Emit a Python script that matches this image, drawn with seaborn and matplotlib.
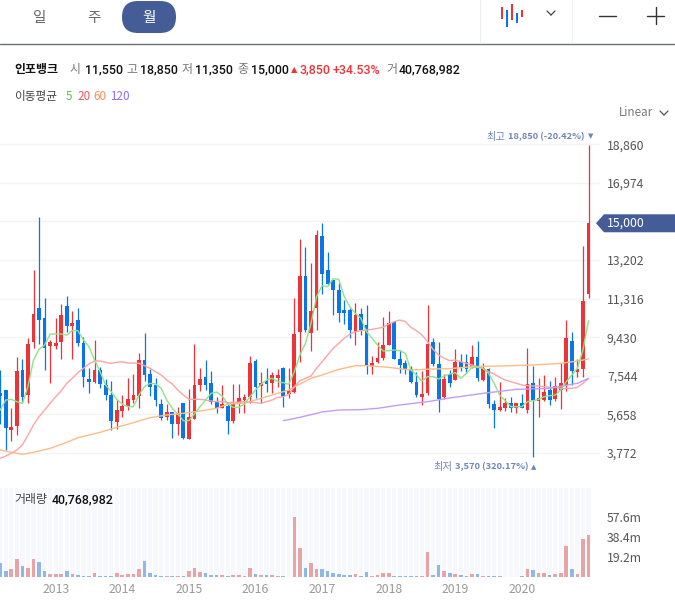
import numpy as np
import pandas as pd
import matplotlib
matplotlib.use("Agg")
import matplotlib.pyplot as plt
from matplotlib.patches import FancyBboxPatch, Polygon, Rectangle
from matplotlib.lines import Line2D
import seaborn as sns

high = [7830,6853,5957,8449,8351,9378,12717,15323,11365,9296,10355,11055,11446,10713,10860,9443,7928,9296,7960,7407,7293,6364,6608,7439,7634,8645,9638,7863,7439,6396,6168,5777,6005,6217,6885,9085,7912,8319,7781,6527,7081,
6201,7146,7130,6641,8514,8367,7748,7912,7748,7879,7977,7912,11365,14216,13825,13043,14672,15014,13580,12228,12066,11251,10844,11104,10844,11007,8514,9199,10420,10713,10176,8807,8319,8025,7732,7781,11007,9394,9199,7634,7830,
8840,8596,8596,9052,9231,8156,7911,6364,7227,6445,6494,6234,6657,8889,8042,7423,7586,7309,7471,8156,10273,9687,8351,13890,18850]
body_top = [6722,6853,5044,7781,7830,9101,10567,10860,10371,9182,9133,10518,10958,10127,10274,9150,7390,7830,7830,7097,6608,5875,6071,6413,6608,8319,8319,7634,7097,6168,5777,5777,5680,6217,5533,7097,7390,7488,7195,6266,6168,
6071,6168,6462,6511,8172,8270,7195,7293,7586,7586,7928,6804,9589,12424,12424,10713,14428,14379,12717,12228,11740,10762,10762,10518,10567,10029,8172,8416,9052,10127,10176,8367,8172,7879,7244,6657,9101,9199,8123,7390,7634,
8205,8205,8205,8449,8449,7911,7879,6168,6005,6201,6201,6201,6201,7146,7195,6445,6738,6853,7032,7179,9394,9248,7879,11202,15000]
body_bottom = [6559,4996,4898,5093,6527,6608,9215,10274,8905,9003,9003,9199,9980,9980,9133,7488,7244,7244,7146,6608,5338,5289,5826,6071,6364,6559,7586,6999,6364,5484,5549,5191,5191,4507,4458,5435,7097,7097,6266,5973,5973,
5338,5338,6168,6364,6511,7016,7048,7146,7195,7439,6511,6657,6755,9687,9785,9638,10860,12522,12033,11740,10616,10616,9785,9687,9785,8074,8025,8221,8416,9052,8367,8074,7879,7244,6608,6511,6706,8123,6413,6511,7195,
7341,7960,7879,7960,7423,7341,6168,5875,5875,5957,5957,5989,5989,5875,6364,6331,6364,6364,6413,6853,7097,7798,7733,7879,11550]
low = [5191,3920,4377,4654,6201,6234,8889,9101,7830,7211,8873,8384,9671,8384,9019,7016,6722,7195,6950,6364,4898,4947,5549,5875,6201,5957,7276,6559,6071,5387,5387,4507,4654,4458,4458,5435,6820,6853,6168,5712,5957,
4702,5224,5712,5712,6201,6462,6201,6755,6690,7016,6005,6462,6722,8205,9687,8775,9785,11544,11984,10518,10192,10062,9378,9035,9540,7634,7634,8188,8319,9052,8367,7667,7634,7211,6494,6120,6608,8025,5777,6396,7016,
7341,7798,7667,7911,7309,7309,5957,5012,5843,5843,5794,5745,5957,5712,3570,5550,6331,6120,6331,5908,6820,7097,7471,7471,11350]
direction = list("bbrrbrrbbrrrbrbbbrbbbrrrrrbbbbrbrbrrrbbbr"
                 "brrrrbrbrrbrrrbrrbbbbbbrbbrrrrbbbbbrrbbrb"
                 "rbbrbrbbrrbrbrbrrbrrrbrrr")
volume = [13.1,5.4,7.4,17,10.6,8.3,17,14.4,5.4,2.6, 2.6,2.6,5.4,2.6,1.6,0.6,0.6,3.5,0.6,0.6,
          0.6,3.5,1.6,2.6,2.6,7.4,15,3.5,1.6,0.6, 0.6,0.6,0.6,0.6,5.4,8.3,4.5,3.5,1.6,1.6,
          1.6,0.6,1.6,1.6,0.6,8.3,2.6,1.6,1.6,1.6, 0.6,0.6,0.2,57.3,27.5,8.3,13.1,7.4,7.4,5.4,
          3.5,2.6,1.6,1.6,2.6,0.6,4.5,0.6,1.6,3.5, 3.5,0.6,0.6,0.6,0.6,0.6,0.6,23.7,1.6,11.8,
          5.4,3.5,2.6,1.6,0.6,2.6,2.6,0.6,0.6,0.6, 0.6,0.2,0.2,0.2,0.6,7.4,6.4,3.5,3.5,1.6,
          2.6,3.5,29.4,7.4,2.6,36.2,40.77]
ma5 = [5875,6364,6397,6283,6201,7016,8319,8840,9052,9589,9589,9589,9540,9752,9752,9296,8970,8319,7748,7097,6771,6397,6168,6038,6038,6608,7016,7179,7146,6934,6364,5957,5680,5354,5354,5680,6038,6364,6690,6755,6559,
       6168,6005,6005,6168,6527,6853,7130,7342,7423,7260,7211,7130,7748,8563,9133,10111,11414,11951,11902,12294,12261,11414,10925,10599,10355,9703,9378,9052,8759,8775,8807,8775,8645,7830,7586,7292,7504,7504,7390,7537,7634,
       7700,7423,7667,7960,7960,7911,7667,7179,6608,6331,6038,6038,6038,6283,6331,6397,6527,6576,6608,6853,7260,7586,7911,8808,10241]
ma20 = [3513,3627,3758,3920,4165,4654,5142,5549,5875,6201,6527,6820,7179,7423,7700,7912,8123,8270,8270,8205,8156,8205,8237,8172,8172,8156,8042,7912,7748,7586,7342,7146,6853,6608,6396,6396,6396,6364,6315,6283,6283,
        6234,6250,6250,6283,6266,6234,6201,6283,6364,6494,6527,6641,7016,7309,7423,7537,7912,8237,8563,8889,9133,9378,9589,9703,9752,9785,9817,9866,9915,10078,10192,10274,10192,9915,9752,9540,9215,8840,8563,8400,8286,
        8319,8237,8156,8075,7993,7911,7749,7635,7472,7341,7260,7179,7097,7065,7048,7048,7016,6983,6983,6934,6934,6934,6983,7179,7423]
ma60_k = [0,2,4,6,9,12,14,18,21,24,27,30,33,36,39,41,44,46,49,52,54,56,58,61,64,66,70,74,78,81,85,90,96,101,104,106]
ma60 = [3920,3806,3709,3806,4002,4295,4523,4784,5028,5256,5500,5631,5712,5826,5957,6168,6201,6364,6608,6853,7146,7423,7586,7862,8042,8042,7960,7830,7879,7895,7993,8026,8075,8156,8270,8368]
ma120_k = [51,54,58,61,65,68,72,77,81,87,93,99,104,106]
ma120 = [5354,5517,5777,5875,5891,5957,6120,6283,6462,6690,6885,6934,7179,7423]
year_k = [10,22,34,46,58,70,82,94]
year_labels = ["2013","2014","2015","2016","2017","2018","2019","2020"]
price_ticks = [18860,16974,15088,13202,11316,9430,7544,5658,3772]
price_labels = ["18,860","16,974","","13,202","11,316","9,430","7,544","5,658","3,772"]
vol_ticks = [19.2,38.4,57.6]
vol_labels = ["19.2m","38.4m","57.6m"]

RED, BLUE, NAVY = "#ee3338", "#0a75e8", "#445d97"
ACC = "#6f84ba"
W, H = 675, 607

sns.set_theme(style="white")
plt.rcParams["font.family"] = ["Noto Sans CJK KR", "DejaVu Sans"]

fig = plt.figure(figsize=(W/100, H/100), dpi=100, facecolor="white")
def fx(x): return x/W
def fy(y): return 1 - y/H
def axpos(x0, y0, x1, y1): return [fx(x0), fy(y1), (x1-x0)/W, (y1-y0)/H]
def txt(x, y, s, size=8.6, color="#222", weight="normal", ha="left", family=None):
    kw = {"family": family} if family else {}
    fig.text(fx(x), fy(y), s, fontsize=size, color=color, fontweight=weight, ha=ha, va="center", **kw)

# scales: 1 candle = 5.55 px, 18860 at y=144.3 px, 48.87 won per px
ks = np.arange(len(high))
xlim = (-0.2/5.55, (600-0.2)/5.55)
top_px, bot_px = 125, 480
PER_PX = 48.87
ax = fig.add_axes(axpos(0, top_px, 600, bot_px))
ax.set_xlim(*xlim)
ax.set_ylim(18860-(bot_px-144.3)*PER_PX, 18860+(144.3-top_px)*PER_PX)
ax.patch.set_alpha(0)
sns.despine(ax=ax, left=True, bottom=True, right=True, top=True)

ax.set_yticks(price_ticks)
ax.set_yticklabels(price_labels)
ax.yaxis.tick_right()
ax.tick_params(axis="y", length=0, pad=5, labelsize=8.8, labelcolor="#555555")
ax.set_xticks([])
ax.grid(axis="y", color="#f2f3f6", lw=1)
ax.set_axisbelow(True)

colors = [RED if d == "r" else BLUE for d in direction]
ax.vlines(ks, low, high, colors=colors, lw=0.9, zorder=2)
ax.bar(ks, np.array(body_top)-np.array(body_bottom), bottom=body_bottom, width=0.68,
       color=colors, linewidth=0, zorder=3)

sns.lineplot(x=ma60_k, y=ma60, ax=ax, color="#fbbd85", lw=1.0, zorder=4)
sns.lineplot(x=ks, y=ma20, ax=ax, color="#fba5a8", lw=1.0, zorder=4)
sns.lineplot(x=ma120_k, y=ma120, ax=ax, color="#c49bf6", lw=1.0, zorder=4)
sns.lineplot(x=ks, y=ma5, ax=ax, color="#8fe38a", lw=1.0, zorder=5)
ax.set_xlabel(""); ax.set_ylabel("")
ax.set_xlim(*xlim)

# volume panel
axv = fig.add_axes(axpos(0, 488, 600, 577))
axv.patch.set_alpha(0)
vtop = (577-488)*0.96
axv.bar(ks, [vtop]*len(ks), width=0.78, color="#f7f8fc", linewidth=0, zorder=0)
df = pd.DataFrame({"k": ks, "volume": volume, "dir": direction})
sns.barplot(data=df, x="k", y="volume", hue="dir", native_scale=True, dodge=False, legend=False,
            palette={"r": "#f4979b", "b": "#7fb9f5"}, width=0.66, ax=axv, zorder=2, linewidth=0)
axv.set_xlim(*xlim)
axv.set_ylim(0, vtop)
axv.set_xlabel(""); axv.set_ylabel("")
sns.despine(ax=axv, left=True, bottom=True, right=True, top=True)
axv.yaxis.tick_right()
axv.set_yticks(vol_ticks); axv.set_yticklabels(vol_labels)
axv.tick_params(axis="y", length=0, pad=5, labelsize=8.8, labelcolor="#555555")
axv.set_xticks(year_k); axv.set_xticklabels(year_labels)
axv.tick_params(axis="x", length=0, pad=4, labelsize=8.8, labelcolor="#999999")
axv.grid(False)

# current price badge
yb = H - ax.transData.transform((0, body_top[-1]))[1]
fig.patches.append(Polygon([(fx(596), fy(yb)), (fx(604), fy(yb-9)), (fx(675), fy(yb-9)),
                            (fx(675), fy(yb+9)), (fx(604), fy(yb+9))],
                           closed=True, transform=fig.transFigure, color=NAVY, lw=0, zorder=5))
fig.text(fx(607), fy(yb), f"{body_top[-1]:,}", color="white", fontsize=8.8,
         va="center", ha="left", zorder=6)

# extreme labels
txt(486, 137, "최고", 7.4, ACC)
txt(508, 137, "18,850 (-20.42%)", 6.7, ACC, "bold")
fig.text(fx(590.5), fy(136.5), "▼", fontsize=5, color=ACC, ha="center", va="center", family=["DejaVu Sans"])
txt(433, 467, "최저", 7.4, ACC)
txt(455, 467, "3,570 (320.17%)", 6.7, ACC, "bold")
fig.text(fx(534), fy(467), "▲", fontsize=5, color=ACC, ha="center", va="center", family=["DejaVu Sans"])

# top toolbar
def fline(x0, y0, x1, y1, color, lw=1.0):
    fig.add_artist(Line2D([fx(x0), fx(x1)], [fy(y0), fy(y1)], color=color, lw=lw))
fline(0, 43.5, 675, 43.5, "#6b7076", 1.0)
fline(480, 0, 480, 43, "#eeeeee", 0.8)
fline(572, 0, 572, 43, "#eeeeee", 0.8)
ax_pill = fig.add_axes([0, 0, 1, 1], zorder=-1); ax_pill.axis("off")
ax_pill.set_xlim(0, W); ax_pill.set_ylim(H, 0)
ax_pill.add_patch(FancyBboxPatch((138, 17), 22, 0.01, boxstyle="round,pad=16", color=NAVY, lw=0))
txt(40, 18, "일", 10.5, "#666666", ha="center")
txt(94, 18, "주", 10.5, "#666666", ha="center")
txt(149, 18, "월", 10.5, "white", ha="center")
for cx, a, b, c in [(502, 7, 19, RED), (507, 10, 27, BLUE), (512, 4, 20, RED), (517, 13, 23, BLUE), (522, 10, 17, RED)]:
    ax_pill.add_patch(Rectangle((cx-1.3, a), 2.6, b-a, color=c, lw=0))
fline(547, 11, 551, 15, "#444444", 0.9); fline(551, 15, 555, 11, "#444444", 0.9)
fline(599, 16, 616, 16, "#333333", 1.0)
fline(647, 16, 664, 16, "#333333", 1.0); fline(655.5, 7, 655.5, 24, "#333333", 1.0)

# info row
Y1 = 70
G, K = "#777777", "#111111"
NUM = ["Roboto", "DejaVu Sans"]
txt(14, Y1, "인포뱅크", 8.6, K, "bold")
for x, s in [(70, "시"), (126, "고"), (182, "저"), (237, "종"), (386, "거")]:
    txt(x, Y1, s, 8.6, G)
for x, s in [(85, "11,550"), (140, "18,850"), (195, "11,350"), (251, "15,000"), (399, "40,768,982")]:
    txt(x, Y1, s, 8.9, K, "medium", family=NUM)
fig.text(fx(294), fy(Y1), "▲", fontsize=6, color=RED, ha="center", va="center", family=["DejaVu Sans"])
txt(300, Y1, "3,850", 8.9, RED, "medium", family=NUM)
txt(333, Y1, "+34.53%", 8.9, RED, "medium", family=NUM)

Y2 = 97
txt(14, Y2, "이동평균", 8.4, "#444444")
for x, s, c in [(66, "5", "#55c24a"), (77, "20", "#f2555c"), (93, "60", "#f58f55"), (110, "120", "#8f6cf0")]:
    txt(x, Y2, s, 8.4, c)
txt(619, 112, "Linear", 8.4, "#777777")
fline(660, 111, 664, 115, "#555555", 0.9); fline(664, 115, 668, 111, "#555555", 0.9)

txt(14, 500, "거래량", 8.6, "#444444")
txt(52, 500, "40,768,982", 8.9, K, "medium", family=NUM)

fig.savefig("out.png", dpi=100, facecolor="white")
